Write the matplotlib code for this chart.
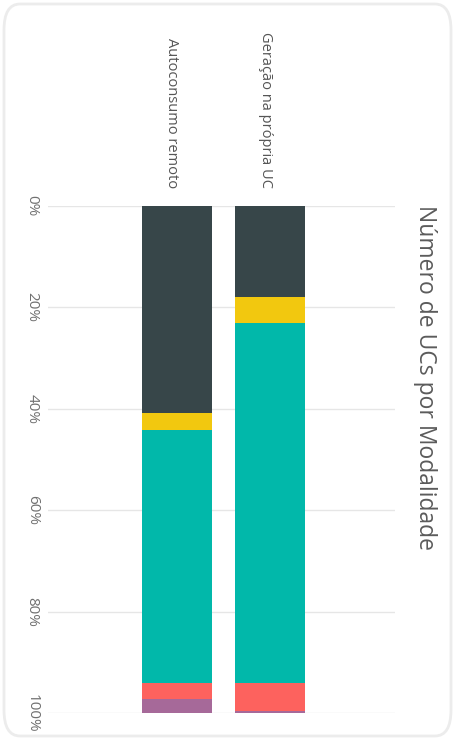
import matplotlib
matplotlib.use("Agg")
import matplotlib.pyplot as plt
from matplotlib.patches import FancyBboxPatch
from matplotlib.transforms import ScaledTranslation
import numpy as np

# Share of consumer units (UCs) per modality, stacked to 100%
categories = ["Autoconsumo remoto", "Geração na própria UC"]
segment_names = ["Seg A", "Seg B", "Seg C", "Seg D", "Seg E"]
segment_values = {
    "Seg A": [40.9, 18.0],
    "Seg B": [3.3, 5.0],
    "Seg C": [49.9, 71.1],
    "Seg D": [3.2, 5.5],
    "Seg E": [2.7, 0.4],
}
segment_colors = ["#374649", "#F2C80F", "#01B8AA", "#FD625E", "#A66999"]
tick_values = [0, 20, 40, 60, 80, 100]
tick_labels = ["0%", "20%", "40%", "60%", "80%", "100%"]
title = "Número de UCs por Modalidade"

W, H = 458, 742
fig = plt.figure(figsize=(W / 100, H / 100), dpi=100)
fig.patch.set_facecolor("white")
plt.rcParams["font.family"] = ["Open Sans", "DejaVu Sans"]

# card frame
frame = FancyBboxPatch((4 / W, 6 / H), 447 / W, 732 / H,
                       boxstyle="round,pad=0,rounding_size=0.035",
                       transform=fig.transFigure, facecolor="none",
                       edgecolor="#ececec", linewidth=2.0, zorder=-1)
fig.patches.append(frame)

left, right, top, bottom = 48, 395, 206, 713
ax = fig.add_axes([left / W, 1 - bottom / H, (right - left) / W, (bottom - top) / H])
ax.set_facecolor("none")

x = np.arange(len(categories))
bar_w = 0.763
base = np.zeros(len(categories))
for name, color in zip(segment_names, segment_colors):
    vals = np.array(segment_values[name])
    ax.bar(x, vals, bottom=base, width=bar_w, color=color, linewidth=0, zorder=2)
    base += vals

ax.set_ylim(100, 0)
ax.set_xlim(-1.387, 2.344)

ax.set_yticks(tick_values)
ax.set_yticklabels(tick_labels, rotation=-90, va="center", color="#707070", fontsize=11)
ax.yaxis.grid(True, color="#e6e6e6", linewidth=1.0, zorder=0)
ax.set_axisbelow(True)
ax.tick_params(axis="y", length=0, pad=6)

ax.xaxis.tick_top()
ax.set_xticks(x)
ax.set_xticklabels(categories, rotation=-90, color="#555555", fontsize=10.5)
ax.tick_params(axis="x", length=0, pad=13)
shift = ScaledTranslation(-5 / 100, 0, fig.dpi_scale_trans)
for lbl in ax.get_xticklabels():
    lbl.set_transform(lbl.get_transform() + shift)

for s in ax.spines.values():
    s.set_visible(False)

fig.text(425 / W, 1 - 205 / H, title, rotation=-90, ha="center", va="top",
         fontsize=16.5, color="#5b5b5b")

fig.savefig("out.png", dpi=100, facecolor="white")
